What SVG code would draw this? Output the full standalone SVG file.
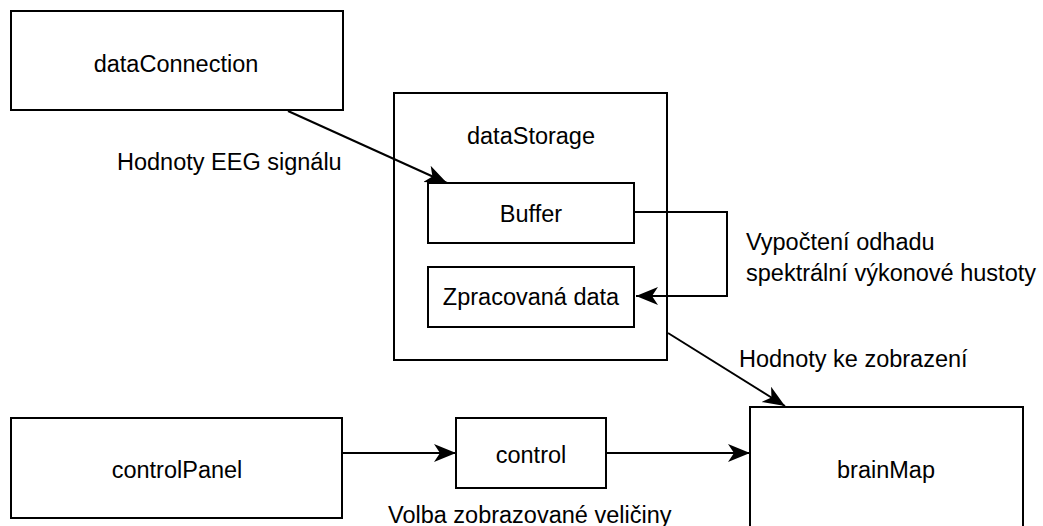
<svg xmlns="http://www.w3.org/2000/svg" width="1043" height="526" viewBox="0 0 1043 526">
<style>
.box{fill:#fff;stroke:#000;stroke-width:2}
.t{font-family:"Liberation Sans",Arial,sans-serif;font-size:23.5px;fill:#000}
.c{text-anchor:middle}
.edge{fill:none;stroke:#000;stroke-width:2}
</style>
<defs>
<marker id="arr" markerUnits="userSpaceOnUse" markerWidth="24" markerHeight="20" refX="22" refY="9" orient="auto" viewBox="0 0 24 20">
<path d="M0,0 L22,9 L0,18 L6,9 z" fill="#000"/>
</marker>
</defs>
<rect width="1043" height="526" fill="#fff"/>
<g id="dataConnection"><rect class="box" x="11" y="11" width="332" height="99"/><text class="t c" x="176" y="72">dataConnection</text></g>
<g id="dataStorage"><rect class="box" x="394" y="93" width="273" height="267"/><text class="t c" x="531" y="144">dataStorage</text></g>
<g id="buffer"><rect class="box" x="428" y="183" width="206" height="60"/><text class="t c" x="531" y="222">Buffer</text></g>
<g id="zpracovana"><rect class="box" x="428" y="267" width="206" height="60"/><text class="t c" x="531" y="305">Zpracovaná data</text></g>
<g id="controlPanel"><rect class="box" x="11" y="418" width="331" height="100"/><text class="t c" x="177" y="478">controlPanel</text></g>
<g id="control"><rect class="box" x="456" y="418" width="150" height="70"/><text class="t c" x="531" y="463">control</text></g>
<g id="brainMap"><rect class="box" x="750" y="407" width="273" height="140"/><text class="t c" x="886" y="478">brainMap</text></g>
<g id="connectors">
<path class="edge" d="M288,111 L447,183" marker-end="url(#arr)"/>
<path class="edge" d="M634,212 H727 V296 H636" marker-end="url(#arr)"/>
<path class="edge" d="M668,333 L785,406" marker-end="url(#arr)"/>
<path class="edge" d="M342,453 H456" marker-end="url(#arr)"/>
<path class="edge" d="M606,453 H750" marker-end="url(#arr)"/>
</g>
<g id="labels">
<text class="t" x="117" y="170">Hodnoty EEG signálu</text>
<text class="t" x="746" y="250">Vypočtení odhadu</text>
<text class="t" x="746" y="281">spektrální výkonové hustoty</text>
<text class="t" x="739" y="367">Hodnoty ke zobrazení</text>
<text class="t" x="388" y="523">Volba zobrazované veličiny</text>
</g>
</svg>
